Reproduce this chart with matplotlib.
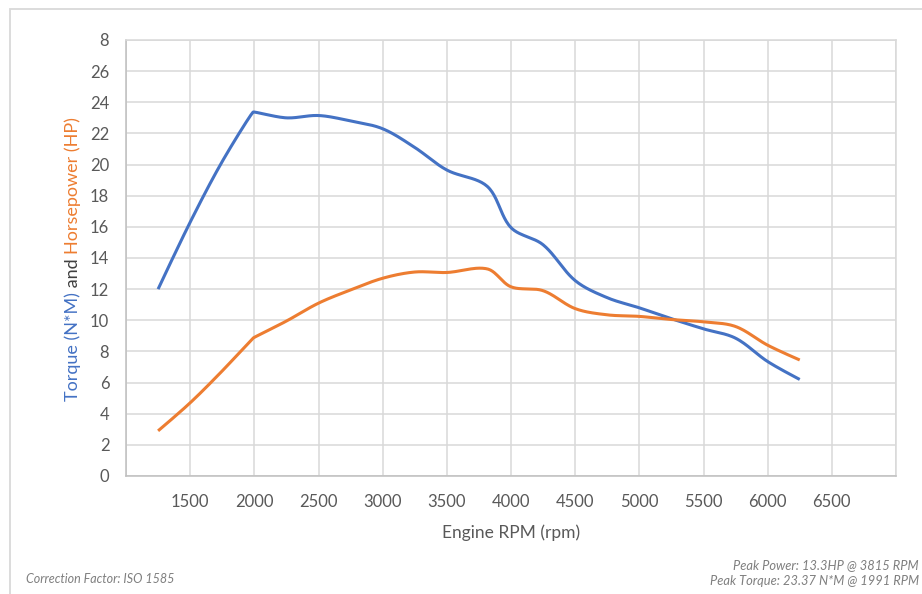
import numpy as np
import matplotlib
matplotlib.use("Agg")
import matplotlib.pyplot as plt
from matplotlib.patches import Rectangle

rpm = [1250, 1500, 1750, 1991, 2250, 2500, 2750, 3000, 3250, 3500, 3815, 4000,
       4250, 4500, 4750, 5000, 5250, 5500, 5750, 6000, 6250]
torque = [12.0, 16.3, 20.2, 23.37, 23.0, 23.15, 22.8, 22.3, 21.1, 19.65, 18.6, 15.95,
          14.85, 12.55, 11.45, 10.8, 10.1, 9.45, 8.85, 7.35, 6.2]
power = [2.9, 4.7, 6.75, 8.86, 9.95, 11.1, 11.95, 12.7, 13.1, 13.07, 13.3, 12.15,
         11.9, 10.75, 10.35, 10.25, 10.05, 9.9, 9.6, 8.4, 7.45]

x_ticks = list(range(1000, 7001, 500))
x_labels = ["" if v in (1000, 7000) else str(v) for v in x_ticks]
y_ticks = list(range(0, 29, 2))
y_labels = [str(v) for v in y_ticks[:-1]] + ["8"]

BLUE = "#4472C4"
ORANGE = "#ED7D31"
GRID = "#D9D9D9"
TXT = "#595959"

plt.rcParams["font.family"] = ["Lato", "DejaVu Sans"]


def smooth(xs, ys, sx, sy, corners=(), n=24):
    # Bezier smoothing with chord-length scaled tangents (like Excel smoothed lines)
    P = np.column_stack([np.asarray(xs, float) / sx, np.asarray(ys, float) / sy])
    N = len(P)
    T = np.zeros_like(P)
    for i in range(N):
        a = P[max(i - 1, 0)]
        b = P[min(i + 1, N - 1)]
        T[i] = b - a
    for c in corners:
        T[c] = T[c] * 0.15
    d = np.linalg.norm(np.diff(P, axis=0), axis=1)
    out = []
    for i in range(N - 1):
        p1, p2 = P[i], P[i + 1]
        dp = d[i - 1] if i > 0 else d[i]
        dn = d[i + 1] if i + 1 < N - 1 else d[i]
        s1 = d[i] / (dp + d[i]) / 3.0 if i > 0 else 0.0
        s2 = d[i] / (d[i] + dn) / 3.0 if i + 1 < N - 1 else 0.0
        c1 = p1 + T[i] * s1
        c2 = p2 - T[i + 1] * s2
        t = np.linspace(0, 1, n, endpoint=(i == N - 2))[:, None]
        bz = ((1 - t) ** 3) * p1 + 3 * ((1 - t) ** 2) * t * c1 + 3 * (1 - t) * t ** 2 * c2 + t ** 3 * p2
        out.append(bz)
    out = np.vstack(out)
    return out[:, 0] * sx, out[:, 1] * sy


fig = plt.figure(figsize=(9.22, 5.94), dpi=100)
W, H = 922, 594
ax = fig.add_axes([126 / W, 1 - 476 / H, (896 - 126) / W, (476 - 40) / H])

sx, sy = 6000 / 770.0, 28 / 436.0
tx, ty = smooth(rpm, torque, sx, sy, corners=(3,))
px, py = smooth(rpm, power, sx, sy, corners=(3,))
ax.plot(tx, ty, color=BLUE, lw=2.2, solid_capstyle="butt", solid_joinstyle="round", zorder=3)
ax.plot(px, py, color=ORANGE, lw=2.2, solid_capstyle="butt", solid_joinstyle="round", zorder=3)

ax.set_xlim(1000, 7000)
ax.set_ylim(0, 28)
ax.set_xticks(x_ticks)
ax.set_xticklabels(x_labels)
ax.set_yticks(y_ticks)
ax.set_yticklabels(y_labels)
ax.tick_params(length=0, colors=TXT, labelsize=12)
ax.tick_params(axis="x", pad=13)
ax.tick_params(axis="y", pad=12)
ax.grid(True, color=GRID, lw=1.1)
ax.set_axisbelow(True)
for s in ax.spines.values():
    s.set_color(GRID)
    s.set_linewidth(1.1)
ax.spines["left"].set_color("#BFBFBF")
ax.spines["bottom"].set_color("#BFBFBF")

ax.set_xlabel("Engine RPM (rpm)", color=TXT, fontsize=12.5, labelpad=10)

# outer chart border
fig.patches.append(Rectangle((10 / W, -0.1), 1.2, 1 - 9 / H + 0.1, transform=fig.transFigure,
                             fill=False, edgecolor=GRID, lw=1.3))

# multi-colored rotated y label
parts = [("Torque (N*M)", BLUE), (" and ", "#404040"), ("Horsepower (HP)", ORANGE)]
fig.canvas.draw()
r = fig.canvas.get_renderer()
texts = []
heights = []
for s, c in parts:
    t = fig.text(0, 0, s, rotation=90, color=c, fontsize=13, ha="center", va="bottom")
    bb = t.get_window_extent(r)
    texts.append(t)
    heights.append(bb.height)
total = sum(heights)
y0 = (H - 259) - total / 2.0
xc = 73
for t, h in zip(texts, heights):
    t.set_position((xc / W, y0 / H))
    y0 += h

fig.text(26 / W, 1 - 579 / H, "Correction Factor: ISO 1585", color="#7F7F7F",
         fontsize=9, style="italic", ha="left", va="center")
fig.text(919 / W, 1 - 565 / H, "Peak Power: 13.3HP @ 3815 RPM", color="#7F7F7F",
         fontsize=9.3, style="italic", ha="right", va="center")
fig.text(919 / W, 1 - 581 / H, "Peak Torque: 23.37 N*M @ 1991 RPM", color="#7F7F7F",
         fontsize=9.3, style="italic", ha="right", va="center")

fig.savefig("out.png", dpi=100)
